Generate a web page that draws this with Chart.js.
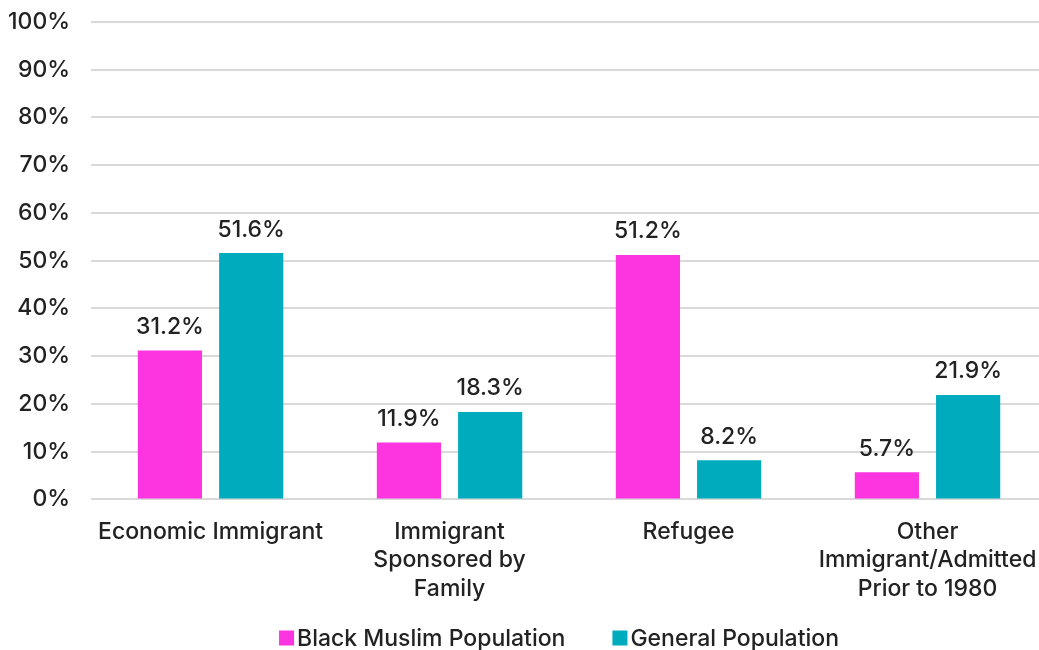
<!DOCTYPE html>
<html>
<head>
<meta charset="utf-8">
<script src="https://cdn.jsdelivr.net/npm/chart.js@4/dist/chart.umd.min.js"></script>
<style>
html,body{margin:0;padding:0;background:#fff;overflow:hidden;}
#wrap{width:1047px;height:650px;position:relative;}
</style>
</head>
<body>
<div id="wrap"><canvas id="c"></canvas></div>
<script>
const categories = [
  ["Economic Immigrant"],
  ["Immigrant", "Sponsored by", "Family"],
  ["Refugee"],
  ["Other", "Immigrant/Admitted", "Prior to 1980"]
];
const seriesNames = ["Black Muslim Population", "General Population"];
const blackMuslim = [31.2, 11.9, 51.2, 5.7];
const generalPop = [51.6, 18.3, 8.2, 21.9];
const yTicks = [0, 10, 20, 30, 40, 50, 60, 70, 80, 90, 100];
const seriesColors = ['#FC35E0', '#00ABBE'];

const FONT = "Inter, 'Liberation Sans', Arial, sans-serif";
const TEXT = "#222222";
const FONT_CSS = "500 23px " + FONT;

const valueLabels = {
  id: 'valueLabels',
  afterDatasetsDraw(chart) {
    const ctx = chart.ctx;
    ctx.save();
    ctx.font = FONT_CSS;
    ctx.fillStyle = TEXT;
    ctx.textAlign = 'center';
    ctx.textBaseline = 'bottom';
    chart.data.datasets.forEach((ds, i) => {
      const meta = chart.getDatasetMeta(i);
      meta.data.forEach((bar, j) => {
        ctx.fillText(ds.data[j].toFixed(1) + '%', bar.x, bar.y - 12);
      });
    });
    ctx.restore();
  }
};

const bottomLegend = {
  id: 'bottomLegend',
  afterDraw(chart) {
    const ctx = chart.ctx;
    ctx.save();
    ctx.font = FONT_CSS;
    const box = 15, gapBoxText = 3, gapItems = 47;
    const widths = chart.data.datasets.map(ds => ctx.measureText(ds.label).width);
    let total = 0;
    widths.forEach((w, i) => { total += box + gapBoxText + w + (i ? gapItems : 0); });
    const cx = (chart.chartArea.left + chart.chartArea.right) / 2 - 10;
    let x = cx - total / 2;
    const y = 638;
    ctx.textBaseline = 'middle';
    ctx.textAlign = 'left';
    chart.data.datasets.forEach((ds, i) => {
      ctx.fillStyle = ds.backgroundColor;
      ctx.fillRect(x, y - box / 2, box, box);
      x += box + gapBoxText;
      ctx.fillStyle = TEXT;
      ctx.fillText(ds.label, x, y + 1);
      x += widths[i] + gapItems;
    });
    ctx.restore();
  }
};

new Chart(document.getElementById('c'), {
  type: 'bar',
  data: {
    labels: categories,
    datasets: [
      { label: seriesNames[0], data: blackMuslim, backgroundColor: seriesColors[0], categoryPercentage: 0.68, barPercentage: 0.79 },
      { label: seriesNames[1], data: generalPop, backgroundColor: seriesColors[1], categoryPercentage: 0.68, barPercentage: 0.79 }
    ]
  },
  options: {
    responsive: true,
    maintainAspectRatio: false,
    animation: false,
    layout: { padding: { left: 8, right: 0, top: 0, bottom: 29 } },
    plugins: {
      legend: { display: false },
      tooltip: { enabled: false }
    },
    scales: {
      x: {
        grid: { display: false, drawTicks: false },
        border: { display: false },
        afterFit(axis) { axis.paddingLeft = 0; axis.paddingRight = 0; },
        ticks: {
          font: { family: FONT, size: 23, weight: 500, lineHeight: 1.24 },
          color: TEXT,
          maxRotation: 0,
          autoSkip: false,
          padding: 18
        }
      },
      y: {
        min: 0,
        max: 100,
        afterBuildTicks(axis) { axis.ticks = yTicks.map(v => ({ value: v })); },
        afterFit(axis) { axis.paddingTop = 22; axis.paddingBottom = 0; axis.width = axis.width - 21; },
        grid: { color: '#d9d9d9', lineWidth: 2, drawTicks: false },
        border: { display: false },
        ticks: {
          font: { family: FONT, size: 23, weight: 500 },
          color: TEXT,
          padding: 21,
          callback: v => v + '%'
        }
      }
    }
  },
  plugins: [valueLabels, bottomLegend]
});
</script>
</body>
</html>
